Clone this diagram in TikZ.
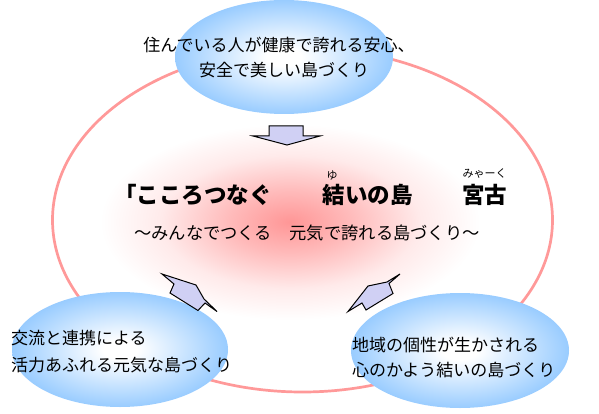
\documentclass[tikz,border=0pt]{standalone}
\usepackage{fontspec}
\newfontfamily\jp{Noto Sans CJK JP}
\definecolor{ringpink}{RGB}{255,153,153}
\definecolor{skyblue}{RGB}{153,204,255}
\definecolor{glowpink}{RGB}{255,150,150}
\definecolor{arrowfill}{RGB}{208,208,244}
\pgfdeclareradialshading{glowshade}{\pgfpoint{0bp}{0bp}}{color(0bp)=(glowpink); color(8bp)=(glowpink!65!white); color(17bp)=(glowpink!20!white); color(25bp)=(white); color(50bp)=(white)}
\pgfdeclareradialshading{blueshade}{\pgfpoint{0bp}{0bp}}{color(0bp)=(white); color(4bp)=(white); color(25bp)=(skyblue); color(50bp)=(skyblue)}
\begin{document}
\begin{tikzpicture}[x=1pt,y=-1pt,
  ring/.style={draw=ringpink, line width=2.7pt},
  bubble/.style={shading=blueshade},
  blockarrow/.style={draw=black, line width=1pt, fill=arrowfill, line join=miter},
  lbl/.style={inner sep=0pt, font=\jp\fontsize{17}{20}\selectfont, text height=14.96pt, text depth=2.04pt},
  sublbl/.style={inner sep=0pt, font=\jp\fontsize{17.3}{20}\selectfont, text height=15.2pt, text depth=2.1pt},
  titlelbl/.style={inner sep=0pt, font=\jp\bfseries\fontsize{22.5}{26}\selectfont, text height=19.8pt, text depth=2.7pt},
  rubylbl/.style={inner sep=0pt, font=\jp\fontsize{11}{13}\selectfont, text height=9.68pt, text depth=1.32pt}]
\useasboundingbox (0,0) rectangle (599,414);
\fill[white] (0,0) rectangle (599,414);
% central glow
\shade[shading=glowshade] (290,222) ellipse (190 and 98);
% big ring
\draw[ring] (302.5,220) ellipse (250 and 172);
% blue bubbles
\shade[bubble] (284,57) ellipse (109 and 57);
\shade[bubble] (120,349.5) ellipse (108 and 57.5);
\shade[bubble] (460,350.5) ellipse (109 and 57.5);
% block arrows
\draw[blockarrow] (269,126) -- (303,126) -- (303,136) -- (320,136) -- (287,145) -- (253,136) -- (269,136) -- cycle;
\draw[blockarrow] (162,274) -- (196,285) -- (204,299) -- (217,311.5) -- (205,303) -- (198,310.5) -- (170,293) -- (174,284) -- cycle;
\draw[blockarrow] (400,274) -- (389,283.5) -- (393,293.5) -- (366,310) -- (362,303) -- (348,311.5) -- (368,286) -- (387,282) -- cycle;
% texts
\node[lbl] (top1) at (279,45) {住んでいる人が健康で誇れる安心、};
\node[lbl] (top2) at (284,70) {安全で美しい島づくり};
\node[lbl, anchor=west] (bl1) at (11,338) {交流と連携による};
\node[lbl, anchor=west] (bl2) at (11,365) {活力あふれる元気な島づくり};
\node[lbl, anchor=west] (br1) at (352,345) {地域の個性が生かされる};
\node[lbl, anchor=west] (br2) at (352,370) {心のかよう結いの島づくり};
\node[titlelbl, anchor=east] (t1) at (272,195) {「こころつなぐ};
\node[titlelbl] (t2) at (367.5,195) {結いの島};
\node[titlelbl] (t3) at (484.5,195) {宮古};
\node[rubylbl] (r1) at (332,175) {ゆ};
\node[rubylbl] (r2) at (484.5,173) {みゃーく};
\node[sublbl] (sub) at (307,233) {～みんなでつくる　元気で誇れる島づくり～};
\end{tikzpicture}
\end{document}
